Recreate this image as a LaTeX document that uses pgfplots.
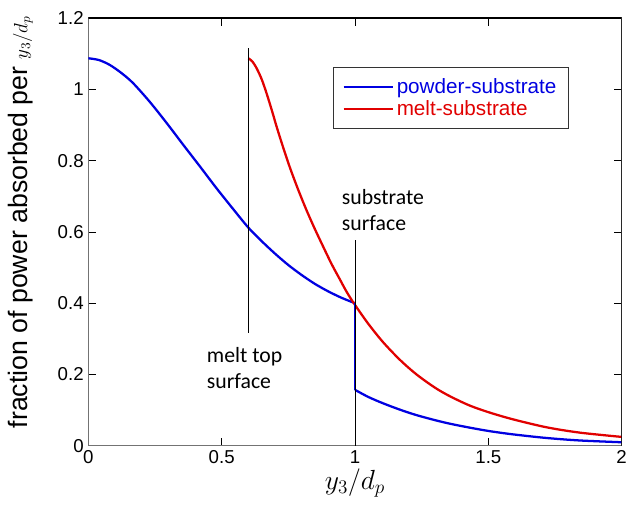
\documentclass[border=0pt]{standalone}
\usepackage{fontspec}
\setmainfont{Liberation Sans}
\newfontfamily\calibri{Carlito}
\usepackage{pgfplots}
\pgfplotsset{compat=1.18}

\definecolor{pblue}{RGB}{0,0,225}
\definecolor{pred}{RGB}{225,0,0}

\begin{document}
\begin{tikzpicture}
\begin{axis}[
  scale only axis, width=400pt, height=320.9pt,
  xmin=0, xmax=2, ymin=0, ymax=1.2,
  xtick={0,0.5,1,1.5,2}, ytick={0,0.2,0.4,0.6,0.8,1,1.2},
  tick align=inside, major tick length=6pt,
  tick style={black, line width=0.6pt},
  axis line style={black!55, line width=0.8pt},
  tick label style={font=\fontsize{14}{16}\selectfont},
  /pgf/number format/assume math mode=true,
  xlabel={$y_3/d_p$}, ylabel={fraction of power absorbed per {\fontsize{14}{16}\selectfont$y_3/d_p$}},
  xlabel style={font=\fontsize{20}{22}\selectfont, at={(axis description cs:0.5,-0.087)}, anchor=center},
  ylabel style={font=\fontsize{20}{22}\selectfont, at={(axis description cs:-0.1275,0.523)}, anchor=center},
  legend cell align=left,
  legend image code/.code={\draw[#1] (0pt,0pt) -- (37pt,0pt);},
  legend style={at={(0.458,0.885)}, anchor=north west, draw=black!80, line width=0.8pt,
    font=\fontsize{15.5}{16}\selectfont, inner xsep=7pt, inner ysep=6pt, row sep=0pt,
    nodes={inner ysep=2pt}},
]
\addplot[pblue, line width=1.7pt, smooth] coordinates {
 (0,1.087) (0.04,1.082) (0.081,1.068) (0.125,1.045) (0.168,1.017) (0.23,0.965)
 (0.294,0.905) (0.356,0.844) (0.419,0.783) (0.48,0.723) (0.543,0.664) (0.60,0.612)
 (0.65,0.574) (0.70,0.539) (0.75,0.507) (0.80,0.479) (0.85,0.454) (0.90,0.433) (0.95,0.415) (1.0,0.400)
};
\addlegendentry{\textcolor{pblue}{powder-substrate}}
\addplot[pred, line width=1.7pt, smooth] coordinates {
 (0.60,1.087) (0.615,1.078) (0.631,1.059) (0.650,1.028) (0.669,0.987) (0.69,0.936)
 (0.706,0.895) (0.73,0.838) (0.756,0.780) (0.787,0.718) (0.818,0.661) (0.85,0.607)
 (0.881,0.558) (0.912,0.510) (0.943,0.467) (0.97,0.430) (1.0,0.395) (1.05,0.342)
 (1.106,0.290) (1.17,0.240) (1.231,0.200) (1.30,0.163) (1.356,0.139) (1.43,0.113)
 (1.506,0.093) (1.594,0.074) (1.718,0.052) (1.843,0.037) (2.0,0.025)
};
\addlegendentry{\textcolor{pred}{melt-substrate}}
\addplot[pblue, line width=1.7pt, forget plot] coordinates {(1.0,0.400) (1.0,0.157)};
\addplot[pblue, line width=1.7pt, smooth, forget plot] coordinates {
 (1.0,0.157) (1.05,0.137) (1.106,0.119) (1.17,0.101) (1.231,0.086) (1.30,0.072)
 (1.356,0.062) (1.43,0.051) (1.506,0.041) (1.594,0.032) (1.718,0.022) (1.843,0.015) (2.0,0.010)
};
\draw[black, line width=0.75pt] (axis cs:0.6,0.317) -- (axis cs:0.6,1.117);
\draw[black, line width=0.75pt] (axis cs:1,0) -- (axis cs:1,0.578);
\node[anchor=west, align=left, font=\calibri\fontsize{16.3}{20}\selectfont, inner sep=0pt]
  at (axis cs:0.4436,0.218) {melt top\\surface};
\node[anchor=west, align=left, font=\calibri\fontsize{16.3}{20}\selectfont, inner sep=0pt]
  at (axis cs:0.95,0.661) {substrate\\surface};
\draw[black, line width=0.8pt] (rel axis cs:0,1) -- (rel axis cs:1,1) -- (rel axis cs:1,0);
\end{axis}
\pgfresetboundingbox
\useasboundingbox ([xshift=-66.3pt,yshift=-45.9pt]current axis.south west) rectangle ([xshift=4pt,yshift=13.5pt]current axis.north east);
\end{tikzpicture}
\end{document}
